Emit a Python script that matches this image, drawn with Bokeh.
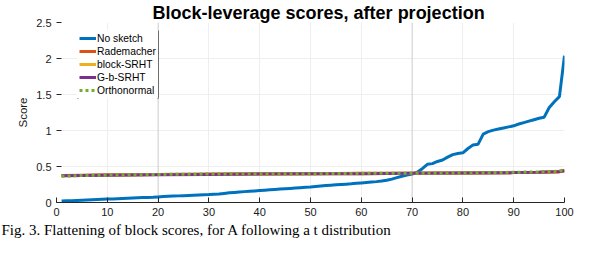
from bokeh.plotting import figure
from bokeh.models import Span, BoxAnnotation, FixedTicker, Legend, LegendItem, Title
from bokeh.embed import file_html
from bokeh.resources import INLINE

# ---- data ----
title_text = "Block-leverage scores, after projection"
y_label = "Score"
caption_text = "Fig. 3.  Flattening of block scores, for A following a t distribution"

x_ticks = [0, 10, 20, 30, 40, 50, 60, 70, 80, 90, 100]
y_ticks = [0, 0.5, 1, 1.5, 2, 2.5]
y_tick_labels = ["0", "0.5", "1", "1.5", "2", "2.5"]
marker_lines = [20, 70]

idx = list(range(1, 101))
no_sketch = [
    0.020, 0.023, 0.026, 0.029, 0.032, 0.035, 0.038, 0.041, 0.044, 0.047,
    0.050, 0.053, 0.056, 0.059, 0.062, 0.065, 0.068, 0.071, 0.074, 0.078,
    0.082, 0.086, 0.089, 0.092, 0.095, 0.098, 0.101, 0.104, 0.107, 0.110,
    0.114, 0.118, 0.126, 0.134, 0.140, 0.146, 0.151, 0.156, 0.161, 0.166,
    0.171, 0.176, 0.181, 0.186, 0.191, 0.196, 0.201, 0.206, 0.211, 0.216,
    0.223, 0.230, 0.235, 0.240, 0.245, 0.250, 0.255, 0.260, 0.266, 0.272,
    0.278, 0.284, 0.290, 0.298, 0.310, 0.325, 0.345, 0.365, 0.380, 0.395,
    0.420, 0.470, 0.530, 0.540, 0.570, 0.590, 0.630, 0.665, 0.680, 0.690,
    0.750, 0.800, 0.810, 0.950, 0.985, 1.005, 1.020, 1.035, 1.050, 1.065,
    1.090, 1.110, 1.130, 1.150, 1.170, 1.185, 1.320, 1.400, 1.470, 2.040,
]

idx_flat = [1, 5, 10, 20, 30, 40, 50, 60, 70, 80, 90, 95, 99, 100]
rademacher = [0.375, 0.380, 0.385, 0.390, 0.395, 0.400, 0.400, 0.405, 0.405, 0.410, 0.415, 0.420, 0.425, 0.440]
block_srht = [0.370, 0.375, 0.380, 0.390, 0.390, 0.395, 0.400, 0.400, 0.405, 0.410, 0.415, 0.420, 0.430, 0.445]
g_b_srht = [0.370, 0.375, 0.380, 0.385, 0.390, 0.395, 0.400, 0.400, 0.405, 0.410, 0.415, 0.420, 0.430, 0.440]
orthonormal = [0.365, 0.375, 0.380, 0.390, 0.395, 0.400, 0.400, 0.405, 0.405, 0.410, 0.420, 0.425, 0.435, 0.460]

FONT = "Liberation Sans"
TXT = "#1a1a1a"

p = figure(width=574, height=238, output_backend="svg", toolbar_location=None,
           x_range=(0, 100), y_range=(0, 2.5),
           min_border_left=56, min_border_right=10, min_border_top=0, min_border_bottom=0)
p.outline_line_color = None
p.background_fill_color = "white"
p.border_fill_color = "white"

p.title.text = title_text
p.title.text_font = FONT
p.title.text_font_size = "18px"
p.title.text_font_style = "bold"
p.title.text_color = "black"
p.title.align = "left"
p.title.standoff = 0
p.title.offset = 96

# axes
p.xaxis.ticker = FixedTicker(ticks=x_ticks)
p.yaxis.ticker = FixedTicker(ticks=y_ticks)
p.yaxis.major_label_overrides = {t: l for t, l in zip(y_ticks, y_tick_labels)}
for ax in (p.xaxis, p.yaxis):
    ax.major_tick_in = 5
    ax.major_tick_out = 0
    ax.minor_tick_line_color = None
    ax.major_tick_line_color = "#262626"
    ax.major_label_text_font = FONT
    ax.major_label_text_font_size = "11px"
    ax.major_label_text_color = TXT
p.xaxis.axis_line_color = "#262626"
p.xaxis.major_label_standoff = 5
p.yaxis.axis_line_color = None
p.yaxis.major_label_standoff = 5
p.yaxis.axis_label = y_label
p.yaxis.axis_label_text_font = FONT
p.yaxis.axis_label_text_font_size = "11.5px"
p.yaxis.axis_label_text_font_style = "normal"
p.yaxis.axis_label_text_color = TXT
p.yaxis.axis_label_standoff = 4

p.xgrid.grid_line_color = "#eeeeee"
p.ygrid.grid_line_color = "#eeeeee"
for xv in marker_lines:
    p.add_layout(Span(location=xv, dimension="height", line_color="#d2d2d2", line_width=1, level="underlay"))

r0 = p.line(idx, no_sketch, line_color="#0072BD", line_width=3)
r1 = p.line(idx_flat, rademacher, line_color="#D95319", line_width=3)
r2 = p.line(idx_flat, block_srht, line_color="#EDB120", line_width=3)
r3 = p.line(idx_flat, g_b_srht, line_color="#7E2F8E", line_width=3)
r4 = p.line(idx_flat, orthonormal, line_color="#77AC30", line_width=3, line_dash="3 3")

legend = Legend(items=[
    LegendItem(label="No sketch", renderers=[r0]),
    LegendItem(label="Rademacher", renderers=[r1]),
    LegendItem(label="block-SRHT", renderers=[r2]),
    LegendItem(label="G-b-SRHT", renderers=[r3]),
    LegendItem(label="Orthonormal", renderers=[r4]),
], location=(21, 104))
legend.margin = 0
legend.padding = 2
legend.spacing = 1
legend.glyph_width = 17
legend.glyph_height = 12
legend.label_height = 12
legend.label_standoff = 1
legend.label_text_font = FONT
legend.label_text_font_size = "10.3px"
legend.label_text_color = "black"
legend.background_fill_color = "white"
legend.background_fill_alpha = 1
legend.border_line_alpha = 0
p.add_layout(legend, "center")

for l, r in ((21, 22), (101, 102)):
    p.add_layout(BoxAnnotation(left=l, right=r, bottom=104, top=172,
                               left_units="screen", right_units="screen",
                               bottom_units="screen", top_units="screen",
                               fill_color="black", fill_alpha=1, line_color=None, level="overlay"))

caption = Title(text=caption_text, align="left", offset=-55, standoff=2,
                text_font="Liberation Serif", text_font_size="15px",
                text_font_style="normal", text_color="black")
p.add_layout(caption, "below")

open("out.html", "w").write(file_html(p, INLINE))
